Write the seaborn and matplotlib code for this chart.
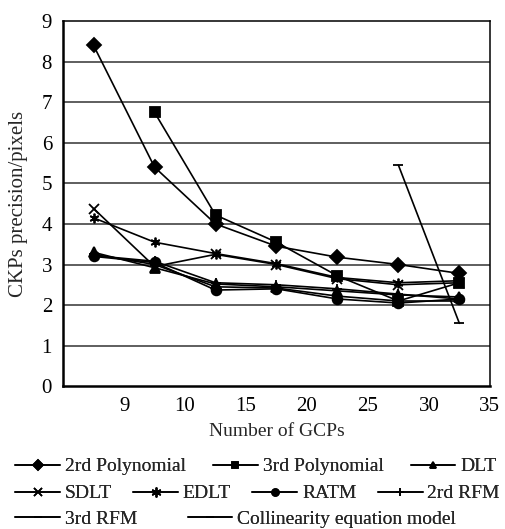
"""
CKPs precision vs number of GCPs, several sensor models
"""

import numpy as np
import pandas as pd
import matplotlib
matplotlib.use('Agg')
import matplotlib.pyplot as plt
import seaborn as sns

# tick labels on the x axis (ticks sit at the right edge of each category slot)
gcp_ticks = [9, 10, 15, 20, 25, 30, 35]

nan = np.nan
poly2 = [8.4, 5.4, 4.0, 3.45, 3.18, 3.0, 2.78]
poly3 = [nan, 6.75, 4.22, 3.55, 2.72, 2.1, 2.55]
dlt = [3.3, 2.92, 2.52, 2.45, 2.35, 2.25, 2.2]
sdlt = [4.38, 2.95, 3.25, 3.0, 2.65, 2.5, 2.55]
edlt = [4.15, 3.55, 3.27, 3.02, 2.68, 2.55, 2.6]
ratm = [3.2, 3.05, 2.37, 2.4, 2.15, 2.05, 2.15]
rfm2 = [3.22, 3.08, 2.55, 2.5, 2.4, 2.27, 2.15]
rfm3 = [3.25, 3.0, 2.45, 2.42, 2.22, 2.1, 2.1]
colline = [nan, nan, nan, nan, nan, 5.45, 1.55]

series = {
    '2rd Polynomial': poly2,
    '3rd Polynomial': poly3,
    'DLT': dlt,
    'SDLT': sdlt,
    'EDLT': edlt,
    'RATM': ratm,
    '2rd RFM': rfm2,
    '3rd RFM': rfm3,
    'Collinearity equation model': colline,
}
markers = {
    '2rd Polynomial': 'D',
    '3rd Polynomial': 's',
    'DLT': '^',
    'SDLT': 'x',
    'EDLT': (6, 2, 0),
    'RATM': 'o',
    '2rd RFM': '+',
    '3rd RFM': '_',
    'Collinearity equation model': '_',
}

rows = []
for name, vals in series.items():
    for i, v in enumerate(vals):
        if not np.isnan(v):
            rows.append({'slot': i + 0.5, 'precision': v, 'model': name})
df = pd.DataFrame(rows)

sns.set_style('white')
plt.rcParams['font.family'] = ['Liberation Serif', 'DejaVu Serif']
plt.rcParams['font.size'] = 14

fig = plt.figure(figsize=(5.05, 5.29), dpi=100)
ax = fig.add_axes([0.125, 0.27, 0.845, 0.69])

for yv in range(1, 9):
    ax.axhline(yv, color='#333333', lw=1.1, zorder=0)

# one call per model: filled and line-art markers can't share one style mapping
for name in series:
    sub = df[df['model'] == name]
    sns.lineplot(data=sub, x='slot', y='precision', color='black',
                 marker=markers[name], markersize=7, markeredgecolor='black',
                 markeredgewidth=1.3, lw=1.2, ax=ax, legend=False)

ax.set_xlim(0, 7)
ax.set_ylim(0, 9)
ax.set_xticks(range(1, 8))
ax.set_xticklabels([str(t) for t in gcp_ticks])
ax.set_yticks(range(0, 10))
ax.tick_params(direction='in', length=4, width=1, colors='black', labelsize=15)
ax.tick_params(axis='x', pad=8)
ax.tick_params(axis='y', pad=8)
for s in ax.spines.values():
    s.set_color('black')
    s.set_linewidth(1.1)
ax.spines['left'].set_linewidth(1.8)
ax.spines['bottom'].set_linewidth(1.8)
ax.set_xlabel('Number of GCPs', fontsize=14, labelpad=5)
ax.set_ylabel('CKPs precision/pixels', fontsize=15, labelpad=10)

# legend in three uneven rows, built from proxy handles with small markers
def handle(name):
    m = markers[name]
    ms = 7 if m == (6, 2, 0) else (6 if m in ('x', '+', '_') else 5)
    return plt.Line2D([], [], color='black', lw=1.2, marker=m,
                      markersize=ms, markeredgewidth=1.2)

names = list(series)
row_defs = [(names[0:3], 0.118, 1.4), (names[3:7], 0.067, 1.1), (names[7:9], 0.018, 2.6)]
for items, ypos, cs in row_defs:
    leg = fig.legend([handle(n) for n in items], items, ncol=len(items),
                     loc='center left', bbox_to_anchor=(0.03, ypos), frameon=False,
                     fontsize=14, handlelength=2.3, handletextpad=0.25,
                     columnspacing=cs, borderaxespad=0, borderpad=0)
    fig.add_artist(leg)

fig.savefig('out.png', dpi=100)
